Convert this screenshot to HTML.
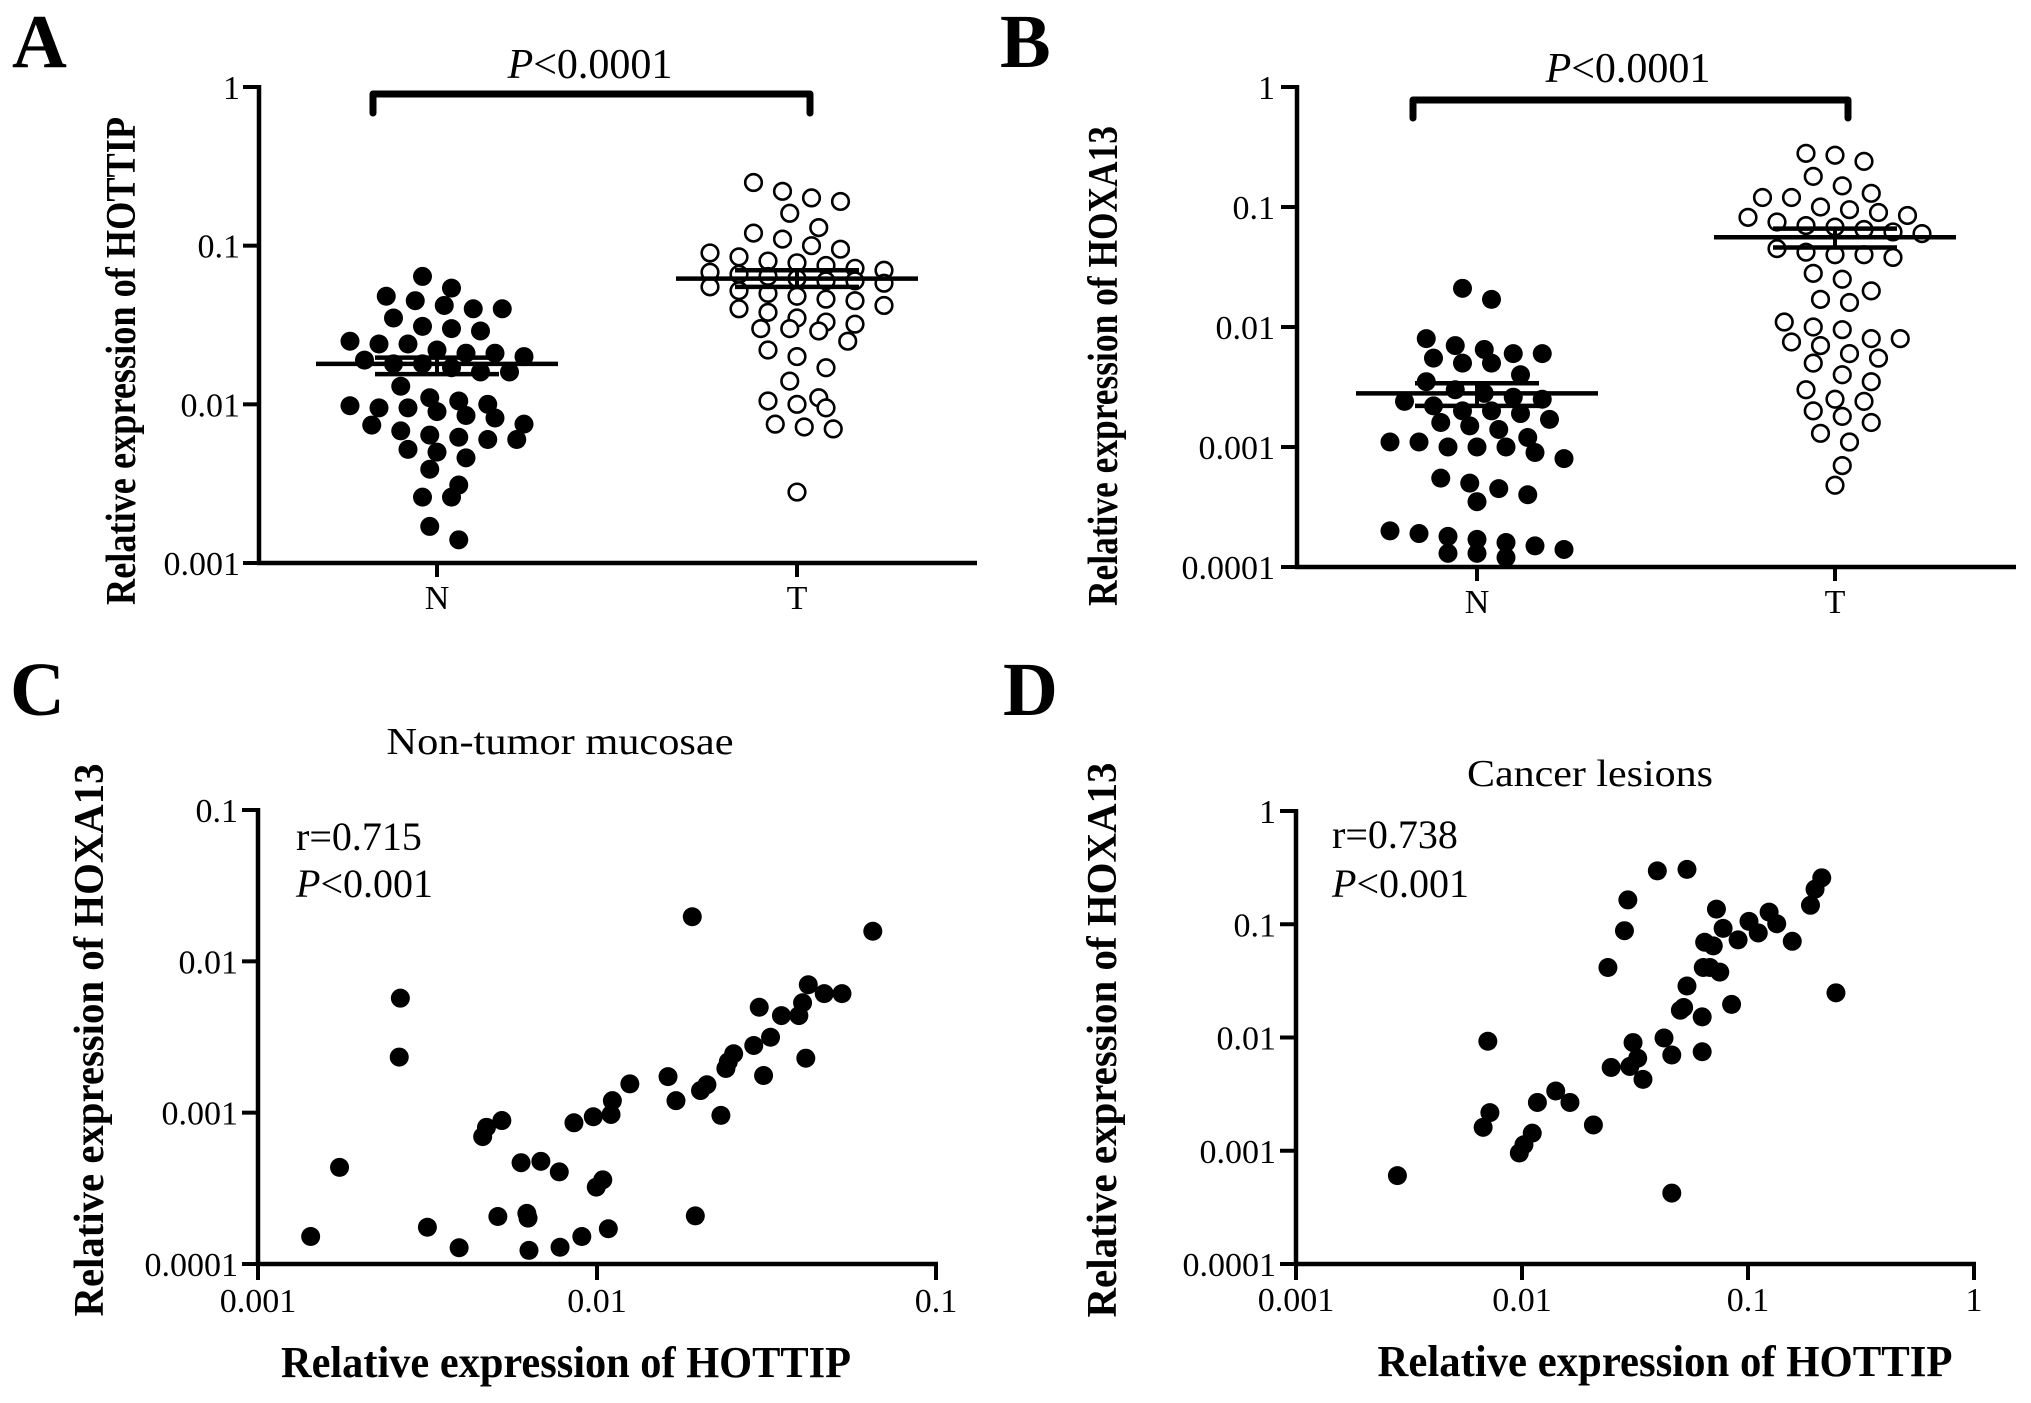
<!DOCTYPE html>
<html><head><meta charset="utf-8"><title>HOTTIP / HOXA13 expression</title>
<style>
html,body{margin:0;padding:0;background:#fff;}
svg{display:block;}
text{font-family:"Liberation Serif",serif;fill:#000;}
</style></head>
<body>
<svg id="fig" xmlns="http://www.w3.org/2000/svg" width="2031" height="1403" viewBox="0 0 2031 1403">
<rect width="2031" height="1403" fill="#fff"/>
</svg>
<script>
// ---- Panel A: HOTTIP relative expression ----
const aNormal = [0.064,0.054,0.048,0.045,0.042,0.040,0.040,0.035,0.031,0.030,0.029,0.025,0.024,0.024,0.022,0.021,0.021,0.020,0.019,0.018,0.018,0.017,0.016,0.016,0.013,0.011,0.0105,0.010,0.0098,0.0095,0.0095,0.009,0.0085,0.0082,0.0075,0.0074,0.0068,0.0064,0.0062,0.0060,0.0060,0.0052,0.0050,0.0046,0.0039,0.0031,0.0026,0.0026,0.0017,0.0014];
const aTumor = [0.25,0.22,0.20,0.19,0.16,0.13,0.12,0.11,0.10,0.095,0.09,0.085,0.08,0.078,0.075,0.072,0.07,0.068,0.066,0.064,0.062,0.06,0.06,0.058,0.055,0.052,0.05,0.048,0.046,0.045,0.042,0.04,0.038,0.035,0.033,0.032,0.03,0.03,0.029,0.025,0.022,0.02,0.017,0.014,0.011,0.0105,0.01,0.0095,0.0075,0.0072,0.007,0.0028];
const aMean = [0.018, 0.062];
const aSemHi = [0.0197, 0.070];
const aSemLo = [0.0155, 0.055];
const aTicks = [1, 0.1, 0.01, 0.001];
const aTickLabels = ["1","0.1","0.01","0.001"];
const categories = ["N","T"];
// ---- Panel B: HOXA13 relative expression ----
const bNormal = [0.021,0.017,0.008,0.007,0.0065,0.006,0.006,0.0055,0.005,0.005,0.004,0.0035,0.003,0.0028,0.0026,0.0025,0.0024,0.0022,0.002,0.002,0.0019,0.0017,0.0016,0.0015,0.0014,0.0012,0.0011,0.0011,0.001,0.001,0.001,0.0009,0.0008,0.00055,0.0005,0.00045,0.0004,0.00035,0.0002,0.00019,0.00018,0.00017,0.00016,0.00015,0.00014,0.00013,0.00013,0.00012];
const bTumor = [0.28,0.27,0.24,0.18,0.15,0.13,0.12,0.12,0.1,0.095,0.09,0.085,0.082,0.075,0.07,0.068,0.065,0.062,0.06,0.045,0.042,0.04,0.04,0.038,0.028,0.025,0.02,0.017,0.016,0.011,0.01,0.0095,0.008,0.008,0.0075,0.007,0.006,0.0055,0.005,0.004,0.0035,0.003,0.0025,0.0024,0.002,0.0018,0.0016,0.0013,0.0011,0.0007,0.00048];
const bMean = [0.0028, 0.056];
const bSemHi = [0.0034, 0.066];
const bSemLo = [0.0022, 0.046];
const bTicks = [1, 0.1, 0.01, 0.001, 0.0001];
const bTickLabels = ["1","0.1","0.01","0.001","0.0001"];
// ---- Panel C: non-tumor correlation ----
const cHottip = [0.00143,0.00174,0.00263,0.00261,0.00316,0.00392,0.0046,0.00472,0.00524,0.0051,0.00597,0.00621,0.00626,0.0063,0.00683,0.00774,0.00778,0.00855,0.00902,0.00975,0.00995,0.0104,0.0108,0.011,0.0111,0.0125,0.0162,0.0171,0.0191,0.0195,0.0202,0.0211,0.0232,0.024,0.0244,0.0253,0.029,0.0301,0.031,0.0325,0.035,0.0394,0.0404,0.0413,0.042,0.0468,0.0528,0.0651];
const cHoxa = [0.000152,0.000435,0.00571,0.00233,0.000175,0.000128,0.000695,0.0008,0.000887,0.000206,0.000467,0.000216,0.000201,0.000123,0.000477,0.000406,0.000129,0.000857,0.000152,0.00094,0.000322,0.00036,0.000171,0.000973,0.0012,0.00155,0.00173,0.0012,0.0197,0.000208,0.0014,0.00153,0.00096,0.00196,0.00217,0.00245,0.00278,0.00497,0.00176,0.00315,0.00438,0.00438,0.00532,0.00229,0.007,0.00612,0.00612,0.0158];
const cXTicks = [0.001,0.01,0.1];
const cXTickLabels = ["0.001","0.01","0.1"];
const cYTicks = [0.1,0.01,0.001,0.0001];
const cYTickLabels = ["0.1","0.01","0.001","0.0001"];
// ---- Panel D: cancer correlation ----
const dHottip = [0.00281,0.00706,0.00673,0.00721,0.00973,0.0102,0.0111,0.0117,0.0141,0.0163,0.0207,0.024,0.0248,0.0284,0.0294,0.03,0.031,0.0325,0.0343,0.0397,0.0425,0.046,0.046,0.0502,0.0519,0.0537,0.0537,0.0627,0.0627,0.0634,0.0643,0.0678,0.0702,0.0725,0.075,0.0776,0.0846,0.0904,0.101,0.111,0.124,0.134,0.157,0.189,0.198,0.212,0.245];
const dHoxa = [0.000603,0.00927,0.00161,0.00217,0.000955,0.00113,0.00143,0.00267,0.00337,0.00267,0.00169,0.0415,0.00544,0.0877,0.164,0.00555,0.00902,0.00656,0.00427,0.296,0.0099,0.00701,0.000423,0.0174,0.0184,0.0285,0.305,0.00748,0.0152,0.0415,0.0694,0.0415,0.0644,0.136,0.0378,0.0919,0.0196,0.0728,0.106,0.0838,0.128,0.101,0.0707,0.147,0.204,0.257,0.0248];
const dXTicks = [0.001,0.01,0.1,1];
const dXTickLabels = ["0.001","0.01","0.1","1"];
const dYTicks = [1,0.1,0.01,0.001,0.0001];
const dYTickLabels = ["1","0.1","0.01","0.001","0.0001"];

const NS = "http://www.w3.org/2000/svg";
const svg = document.getElementById("fig");
function mk(tag, attrs, parent){
  const e = document.createElementNS(NS, tag);
  for (const k in attrs) e.setAttribute(k, attrs[k]);
  (parent || svg).appendChild(e);
  return e;
}
function logScale(v0, v1, p0, p1){
  const l0 = Math.log10(v0), l1 = Math.log10(v1);
  return v => p0 + (Math.log10(v) - l0) / (l1 - l0) * (p1 - p0);
}
function txt(parent, x, y, s, size, opts){
  const t = mk("text", Object.assign({x:x, y:y, "font-size":size}, opts || {}), parent);
  t.textContent = s;
  return t;
}
function line(parent, x1, y1, x2, y2, w){
  return mk("line", {x1:x1, y1:y1, x2:x2, y2:y2, stroke:"#000", "stroke-width":w || 4}, parent);
}
function yAxis(g, x, yTop, yBot, ticks, labels, ys, labelRight){
  const ax = line(g, x, yTop - 2, x, yBot + 2, 4.5);
  
  
  ticks.forEach((t, i) => {
    const y = ys(t);
    const tk = line(g, x - 16, y, x, y, 4);
    
    
    const lb = txt(g, labelRight, y + 12, labels[i], 34, {"text-anchor":"end"});
    
    
  });
}
// GraphPad-like row binning: points in same row spread horizontally
function swarm(vals, cx, ys, rowH, spacing, maxPerRow){
  const sorted = vals.slice().sort((a,b)=>b-a);
  const rows = [];
  let cur = null;
  sorted.forEach(v => {
    const y = ys(v);
    if (!cur || y - cur.y0 > rowH || cur.items.length >= maxPerRow){ cur = {y0:y, items:[]}; rows.push(cur); }
    cur.items.push(y);
  });
  const pts = [];
  rows.forEach((row, ri) => {
    const n = row.items.length;
    const shift = (ri % 2 && n < maxPerRow) ? spacing / 4 : 0;
    row.items.forEach((y, i) => {
      pts.push({x: cx + shift + (i - (n - 1) / 2) * spacing, y: y});
    });
  });
  return pts;
}

function dotPanel(cfg){
  const g = mk("g", {});
  
  
  const ys = logScale(cfg.vTop, cfg.vBot, cfg.yTop, cfg.yBot);
  yAxis(g, cfg.axisX, cfg.yTop, cfg.yBot, cfg.ticks, cfg.tickLabels, ys, cfg.labelRight);
  const xa = line(g, cfg.axisX - 2, cfg.yBot, cfg.xEnd, cfg.yBot, 4.5);
  
  
  const series = [cfg.normal, cfg.tumor];
  series.forEach((vals, si) => {
    const cx = cfg.catX[si];
    const tk = line(g, cx, cfg.yBot, cx, cfg.yBot + 14, 4);
    
    
    const lb = txt(g, cx, cfg.yBot + 46, categories[si], 34, {"text-anchor":"middle"});
    
    
    const pts = swarm(vals, cx, ys, 19, 29, 7);
    pts.forEach(p => {
      const c = mk("circle", si === 0 ? {cx:p.x, cy:p.y, r:9.5, fill:"#000"} : {cx:p.x, cy:p.y, r:8.3, fill:"#fff", stroke:"#000", "stroke-width":2.6}, g);
      
      
    });
  });
  series.forEach((vals, si) => {
    const cx = cfg.catX[si];
    const m = line(g, cx - 121, ys(cfg.mean[si]), cx + 121, ys(cfg.mean[si]), 4.5);
    
    
    const h = line(g, cx - 62, ys(cfg.semHi[si]), cx + 62, ys(cfg.semHi[si]), 4.5);
    
    
    const l = line(g, cx - 62, ys(cfg.semLo[si]), cx + 62, ys(cfg.semLo[si]), 4.5);
    
    
    const v = line(g, cx, ys(cfg.semHi[si]), cx, ys(cfg.semLo[si]), 4);
    
    
  });
  const br = mk("path", {d:`M${cfg.br[0]} ${cfg.br[3]} L${cfg.br[0]} ${cfg.br[2]} L${cfg.br[1]} ${cfg.br[2]} L${cfg.br[1]} ${cfg.br[3]}`, fill:"none", stroke:"#000", "stroke-width":7, "stroke-linecap":"round", "stroke-linejoin":"round"}, g);
  
  
  const pt = mk("text", {x:cfg.pX, y:cfg.pY, "font-size":42, "text-anchor":"middle"}, g);
  
  
  const ti = mk("tspan", {"font-style":"italic"}, pt); ti.textContent = "P";
  const tr = mk("tspan", {}, pt); tr.textContent = "<0.0001";
  const yl = txt(g, 0, 0, cfg.yTitle, 42, {"font-weight":"bold", "text-anchor":"middle", transform:`translate(${cfg.yTitleX},${cfg.yTitleY}) rotate(-90)`, textLength:cfg.yTitleLen, lengthAdjust:"spacingAndGlyphs"});
  
  
  const pl = txt(g, cfg.letterX, 67, cfg.letter, 76, {"font-weight":"bold"});
  
  
}

function scatterPanel(cfg){
  const g = mk("g", {});
  
  
  const xs = logScale(cfg.xV0, cfg.xV1, cfg.x0, cfg.x1);
  const ys = logScale(cfg.yV0, cfg.yV1, cfg.yTop, cfg.yBot);
  yAxis(g, cfg.x0, cfg.yTop, cfg.yBot, cfg.yTicks, cfg.yTickLabels, ys, cfg.x0 - 20);
  const xa = line(g, cfg.x0 - 2, cfg.yBot, cfg.x1 + 2, cfg.yBot, 4.5);
  
  
  cfg.xTicks.forEach((t, i) => {
    const x = xs(t);
    const tk = line(g, x, cfg.yBot, x, cfg.yBot + 16, 4);
    
    
    const lb = txt(g, x, cfg.xTickY, cfg.xTickLabels[i], 34, {"text-anchor":"middle"});
    
    
  });
  cfg.xv.forEach((v, i) => {
    const c = mk("circle", {cx:xs(v), cy:ys(cfg.yv[i]), r:9.5, fill:"#000"}, g);
    
    
  });
  const tt = txt(g, cfg.titleX, cfg.titleY, cfg.title, 38, {"text-anchor":"middle", textLength:cfg.titleLen, lengthAdjust:"spacingAndGlyphs"});
  
  
  const rt = txt(g, cfg.statX, cfg.statY1, cfg.rText, 40, {});
  
  
  const pt = mk("text", {x:cfg.statX, y:cfg.statY2, "font-size":40}, g);
  
  
  const ti = mk("tspan", {"font-style":"italic"}, pt); ti.textContent = "P";
  const tr = mk("tspan", {}, pt); tr.textContent = "<0.001";
  const xl = txt(g, cfg.xTitleX, cfg.xTitleY, "Relative expression of HOTTIP", 44, {"font-weight":"bold", "text-anchor":"middle", textLength:cfg.xTitleLen, lengthAdjust:"spacingAndGlyphs"});
  
  
  const yl = txt(g, 0, 0, "Relative expression of HOXA13", 42, {"font-weight":"bold", "text-anchor":"middle", transform:`translate(${cfg.yTitleX},${cfg.yTitleY}) rotate(-90)`, textLength:cfg.yTitleLen, lengthAdjust:"spacingAndGlyphs"});
  
  
  const pl = txt(g, cfg.letterX, 715, cfg.letter, 76, {"font-weight":"bold"});
  
  
}

dotPanel({name:"panel-a-hottip", normal:aNormal, tumor:aTumor, mean:aMean, semHi:aSemHi, semLo:aSemLo,
  ticks:aTicks, tickLabels:aTickLabels, vTop:1, vBot:0.001, yTop:87, yBot:563, axisX:259, xEnd:977,
  labelRight:240, catX:[437,797], br:[373,810,94,113], pX:590, pY:78,
  yTitle:"Relative expression of HOTTIP", yTitleX:135, yTitleY:361, yTitleLen:488, letter:"A", letterX:12});
dotPanel({name:"panel-b-hoxa13", normal:bNormal, tumor:bTumor, mean:bMean, semHi:bSemHi, semLo:bSemLo,
  ticks:bTicks, tickLabels:bTickLabels, vTop:1, vBot:0.0001, yTop:87, yBot:567, axisX:1297, xEnd:2016,
  labelRight:1275, catX:[1477,1835], br:[1413,1848,100,118], pX:1628, pY:82,
  yTitle:"Relative expression of HOXA13", yTitleX:1117, yTitleY:366, yTitleLen:480, letter:"B", letterX:1000});
scatterPanel({name:"panel-c-non-tumor", xv:cHottip, yv:cHoxa, xTicks:cXTicks, xTickLabels:cXTickLabels,
  yTicks:cYTicks, yTickLabels:cYTickLabels, xV0:0.001, xV1:0.1, x0:258, x1:936, yV0:0.1, yV1:0.0001, yTop:810, yBot:1264,
  xTickY:1312, title:"Non-tumor mucosae", titleX:560, titleY:754, titleLen:347, rText:"r=0.715", statX:296, statY1:850, statY2:897,
  xTitleX:566, xTitleY:1377, xTitleLen:570, yTitleX:103, yTitleY:1040, yTitleLen:553, letter:"C", letterX:10});
scatterPanel({name:"panel-d-cancer", xv:dHottip, yv:dHoxa, xTicks:dXTicks, xTickLabels:dXTickLabels,
  yTicks:dYTicks, yTickLabels:dYTickLabels, xV0:0.001, xV1:1, x0:1296, x1:1974, yV0:1, yV1:0.0001, yTop:811, yBot:1264,
  xTickY:1311, title:"Cancer lesions", titleX:1590, titleY:786, titleLen:246, rText:"r=0.738", statX:1332, statY1:848, statY2:897,
  xTitleX:1665, xTitleY:1376, xTitleLen:575, yTitleX:1116, yTitleY:1040, yTitleLen:555, letter:"D", letterX:1003});
</script>
</body></html>
